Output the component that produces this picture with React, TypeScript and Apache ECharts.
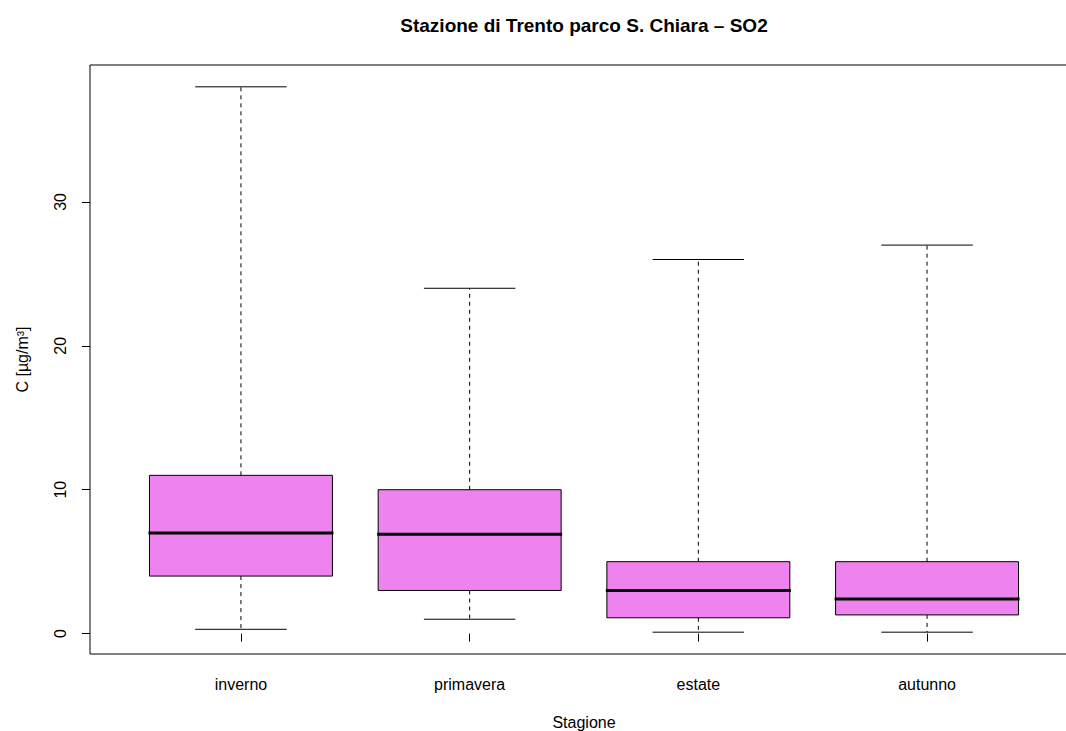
import React, { useEffect, useRef } from "react";
import * as echarts from "echarts";

const categories = ["inverno", "primavera", "estate", "autunno"];
const lowWhisker = [0.3, 1, 0.1, 0.1];
const q1 = [4, 3, 1.1, 1.3];
const median = [7, 6.9, 3, 2.4];
const q3 = [11, 10, 5, 5];
const highWhisker = [38, 24, 26, 27];
const yTicks = [0, 10, 20, 30];
const xTicks = [1, 2, 3, 4];

const FONT = "'Liberation Sans', Arial, Helvetica, sans-serif";

export default function App() {
  const ref = useRef<HTMLDivElement>(null);
  useEffect(() => {
    if (!ref.current) return;
    const chart = echarts.init(ref.current, null, { renderer: "svg" });
    const data = categories.map((_, i) => [
      i + 1,
      lowWhisker[i],
      q1[i],
      median[i],
      q3[i],
      highWhisker[i],
    ]);
    chart.setOption({
      animation: false,
      backgroundColor: "#ffffff",
      title: {
        text: "Stazione di Trento parco S. Chiara \u2013 SO2",
        left: 579,
        top: 11,
        textAlign: "center",
        textStyle: { fontSize: 19, fontWeight: "bold", color: "#000", fontFamily: FONT },
      },
      grid: {
        left: 90,
        top: 65,
        width: 988,
        height: 589,
        outerBoundsMode: "none",
        containLabel: false,
        show: true,
        borderColor: "#000",
        borderWidth: 1,
        backgroundColor: "transparent",
      },
      xAxis: {
        type: "value",
        min: 0.34,
        max: 4.66,
        name: "Stagione",
        nameLocation: "middle",
        nameGap: 60,
        nameTextStyle: { fontSize: 16, color: "#000", fontFamily: FONT },
        axisLine: { show: false },
        splitLine: { show: false },
        axisTick: { show: true, length: 8, customValues: xTicks, lineStyle: { color: "#000", width: 1 } },
        axisLabel: {
          customValues: xTicks,
          margin: 22,
          fontSize: 16,
          color: "#000",
          fontFamily: FONT,
          formatter: (v: number) => categories[Math.round(v) - 1] ?? "",
        },
      },
      yAxis: {
        type: "value",
        min: -1.416,
        max: 39.516,
        name: "C [\u00b5g/m\u00b3]",
        nameLocation: "middle",
        nameGap: 60,
        nameTextStyle: { fontSize: 16, color: "#000", fontFamily: FONT },
        axisLine: { show: false },
        splitLine: { show: false },
        axisTick: { show: true, length: 8, customValues: yTicks, lineStyle: { color: "#000", width: 1 } },
        axisLabel: {
          customValues: yTicks,
          rotate: 90,
          margin: 22,
          fontSize: 16,
          color: "#000",
          fontFamily: FONT,
        },
      },
      series: [
        {
          type: "custom",
          data,
          encode: { x: 0, y: [1, 2, 3, 4, 5] },
          renderItem: (params: any, api: any) => {
            const x = api.value(0);
            const lo = api.coord([x, api.value(1)]);
            const b1 = api.coord([x, api.value(2)]);
            const md = api.coord([x, api.value(3)]);
            const b3 = api.coord([x, api.value(4)]);
            const hi = api.coord([x, api.value(5)]);
            const w = api.size([0.8, 0])[0];
            const cx = lo[0];
            const dash = { stroke: "#000", lineWidth: 1, lineDash: [4, 4] };
            const solid = { stroke: "#000", lineWidth: 1 };
            return {
              type: "group",
              children: [
                { type: "line", shape: { x1: cx, y1: b3[1], x2: cx, y2: hi[1] }, style: dash },
                { type: "line", shape: { x1: cx, y1: b1[1], x2: cx, y2: lo[1] }, style: dash },
                { type: "line", shape: { x1: cx - w / 4, y1: hi[1], x2: cx + w / 4, y2: hi[1] }, style: solid },
                { type: "line", shape: { x1: cx - w / 4, y1: lo[1], x2: cx + w / 4, y2: lo[1] }, style: solid },
                {
                  type: "rect",
                  shape: { x: cx - w / 2, y: b3[1], width: w, height: b1[1] - b3[1] },
                  style: { fill: "#EE82EE", stroke: "#000", lineWidth: 1 },
                },
                {
                  type: "line",
                  shape: { x1: cx - w / 2 - 1, y1: md[1], x2: cx + w / 2 + 1, y2: md[1] },
                  style: { stroke: "#000", lineWidth: 3 },
                },
              ],
            };
          },
        },
      ],
    });
    return () => chart.dispose();
  }, []);
  return (
    <div
      ref={ref}
      style={{ position: "fixed", left: 0, top: 0, width: 1066, height: 731, background: "#fff" }}
    />
  );
}
